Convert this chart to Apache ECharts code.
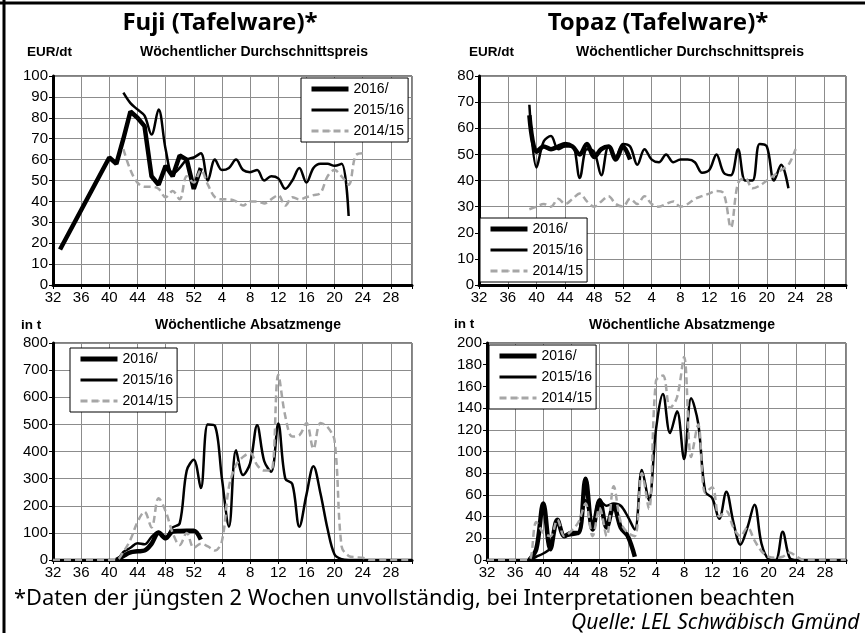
<!DOCTYPE html>
<html>
<head>
<meta charset="utf-8">
<script src="https://cdn.jsdelivr.net/npm/echarts@6/dist/echarts.min.js"></script>
<style>
  html, body { margin: 0; padding: 0; background: #fff; }
  #chart { width: 865px; height: 633px; }
</style>
</head>
<body>
<div id="chart"></div>
<script>
// x = running week index: 32..52 in the first year, 53 = week 1, 56 = week 4 ...
const weekMin = 32;
const weekMax = 83;
const seasons = ['2016/', '2015/16', '2014/15'];

// Fuji, weekly average price (EUR/dt)
const fujiPrice16Weeks = [33, 40, 41, 42, 43, 44, 45, 46, 47, 48, 49, 50, 51, 52, 53];
const fujiPrice16 = [17, 61, 58, 70, 83, 80, 76, 52, 48, 57, 52, 62, 60, 46, 56];
const fujiPrice15Start = 42;
const fujiPrice15 = [92, 87, 84, 81, 72, 84, 65, 53, 56, 60, 61, 63, 50, 60, 55, 56, 60, 55, 54, 55, 50, 52, 51, 46, 50, 56, 49, 56, 58, 58, 57, 58, 33];
const fujiPrice14Start = 42;
const fujiPrice14 = [65, 55, 49, 47, 47, 46, 42, 45, 41, 52, 49, 55, 48, 42, 41, 41, 40, 38, 40, 40, 39, 41, 43, 38, 42, 41, 42, 43, 44, 52, 55, 52, 48, 62, 63];

// Topaz, weekly average price (EUR/dt)
const topazPriceStart = 39;
const topazPrice16 = [65, 51, 53, 52, 53, 54, 53, 50, 54, 49, 52, 53, 48, 53, 48];
const topazPrice15 = [69, 45, 55, 57, 52, 53, 53, 41, 52, 51, 42, 53, 49, 54, 53, 46, 52, 48, 47, 50, 47, 48, 48, 47, 43, 44, 50, 43, 42, 52, 40, 40, 54, 53, 40, 46, 37];
const topazPrice14 = [29, 30, 31, 30, 33, 31, 33, 35, 32, 30, 32, 34, 31, 30, 33, 31, 34, 31, 30, 31, 32, 30, 31, 33, 34, 35, 36, 35, 22, 39, 41, 37, 38, 40, 42, 44, 46, 52];

// Fuji, weekly sales (t)
const fujiVol16Start = 41;
const fujiVol16 = [0, 15, 28, 32, 35, 60, 100, 80, 105, 107, 108, 108, 75];
const fujiVolStart = 32;
const fujiVol15 = [0, 0, 0, 0, 0, 0, 0, 0, 0, 0, 30, 45, 62, 58, 85, 105, 85, 120, 135, 330, 370, 265, 500, 495, 300, 123, 405, 313, 356, 497, 365, 325, 503, 300, 280, 123, 240, 346, 245, 115, 20, 3, 0, 0, 0, 0, 0, 0, 0, 0, 0, 0];
const fujiVol14 = [0, 0, 0, 0, 0, 0, 0, 0, 0, 0, 30, 75, 140, 178, 120, 228, 180, 100, 55, 100, 45, 60, 50, 35, 70, 270, 350, 380, 395, 350, 330, 330, 683, 530, 455, 460, 505, 410, 505, 490, 440, 50, 15, 10, 8, 0, 0, 0, 0, 0, 0, 0];

// Topaz, weekly sales (t)
const topazVol16Start = 38;
const topazVol16 = [0, 10, 52, 10, 37, 22, 25, 25, 75, 28, 55, 30, 50, 30, 22, 3];
const topazVolStart = 32;
const topazVol15 = [0, 0, 0, 0, 0, 0, 0, 3, 6, 11, 37, 22, 23, 25, 55, 30, 55, 50, 52, 50, 40, 28, 83, 55, 120, 153, 117, 137, 93, 149, 126, 63, 57, 38, 63, 35, 14, 30, 51, 15, 1, 0, 26, 2, 0, 0, 0, 0, 0, 0, 0, 0];
const topazVol14 = [0, 0, 0, 0, 0, 0, 0, 35, 25, 22, 37, 22, 27, 35, 52, 22, 48, 22, 68, 35, 25, 22, 80, 47, 165, 170, 140, 150, 187, 95, 125, 62, 67, 40, 45, 30, 22, 30, 18, 8, 3, 2, 3, 7, 3, 0, 0, 0, 0, 0, 0, 0];

const labelFont = 'Liberation Sans';
const headFont = 'Noto Sans';

function fromWeek(start, values) {
  return values.map((v, i) => [start + i, v]);
}
function zipWeeks(weeks, values) {
  return values.map((v, i) => [weeks[i], v]);
}

const seasonStyle = [
  { color: '#000', width: 4.5, type: 'solid' },
  { color: '#000', width: 2.5, type: 'solid' },
  { color: '#a6a6a6', width: 2.5, type: [7, 4] }
];

const panels = [
  {
    data: [zipWeeks(fujiPrice16Weeks, fujiPrice16), fromWeek(fujiPrice15Start, fujiPrice15), fromWeek(fujiPrice14Start, fujiPrice14)],
    smooth: [false, 0.35, 0.35],
    yMax: 100, yStep: 10,
    grid: { left: 53, top: 76, width: 359, height: 209 }, legend: { left: 301, top: 78 }
  },
  {
    data: [fromWeek(topazPriceStart, topazPrice16), fromWeek(topazPriceStart, topazPrice15), fromWeek(topazPriceStart, topazPrice14)],
    smooth: [0.35, 0.35, 0.35],
    yMax: 80, yStep: 10,
    grid: { left: 479, top: 76, width: 367, height: 209 }, legend: { left: 480, top: 218 }
  },
  {
    data: [fromWeek(fujiVol16Start, fujiVol16), fromWeek(fujiVolStart, fujiVol15), fromWeek(fujiVolStart, fujiVol14)],
    smooth: [0.35, 0.35, 0.35],
    yMax: 800, yStep: 100,
    grid: { left: 53, top: 343, width: 359, height: 217 }, legend: { left: 70, top: 348 }
  },
  {
    data: [fromWeek(topazVol16Start, topazVol16), fromWeek(topazVolStart, topazVol15), fromWeek(topazVolStart, topazVol14)],
    smooth: [0.35, 0.35, 0.35],
    yMax: 200, yStep: 20,
    grid: { left: 487, top: 343, width: 359, height: 217 }, legend: { left: 489, top: 345 }
  }
];

const legendItems = seasons.map((name, i) => ({
  name: name,
  lineStyle: { width: seasonStyle[i].width + 0.5, color: seasonStyle[i].color, type: seasonStyle[i].type }
}));

function label(text, x, y, size, align) {
  return {
    type: 'text', x: x, y: y, z: 10,
    style: { text: text, font: 'bold ' + size + 'px ' + labelFont, fill: '#000', textAlign: align || 'left', textVerticalAlign: 'middle' }
  };
}

const option = {
  animation: false,
  backgroundColor: '#fff',
  grid: panels.map(p => Object.assign({ show: true, borderColor: '#000', borderWidth: 1, backgroundColor: 'transparent' }, p.grid)),
  xAxis: panels.map((p, i) => ({
    type: 'value',
    gridIndex: i,
    min: weekMin,
    max: weekMax,
    interval: 4,
    axisLine: { show: true, onZero: false, lineStyle: { color: '#000', width: 3 } },
    axisTick: { show: true, length: 4, lineStyle: { color: '#000', width: 1 } },
    axisLabel: {
      color: '#000', fontFamily: labelFont, fontSize: 15, margin: 5,
      formatter: v => ((v - weekMin) % 4 !== 0 ? '' : String(v > 52 ? v - 52 : v))
    },
    splitLine: { show: true, lineStyle: { color: '#8c8c8c', width: 1 } }
  })),
  yAxis: panels.map((p, i) => ({
    type: 'value',
    gridIndex: i,
    min: 0,
    max: p.yMax,
    interval: p.yStep,
    axisLine: { show: true, lineStyle: { color: '#000', width: 3 } },
    axisTick: { show: true, length: 4, lineStyle: { color: '#000', width: 1 } },
    axisLabel: { color: '#000', fontFamily: labelFont, fontSize: 15, margin: 5 },
    splitLine: { show: true, lineStyle: { color: '#8c8c8c', width: 1 } }
  })),
  legend: panels.map(p => ({
    left: p.legend.left,
    top: p.legend.top,
    orient: 'vertical',
    backgroundColor: '#fff',
    borderColor: '#000',
    borderWidth: 1,
    borderRadius: 0,
    padding: [4, 4, 4, 8],
    itemWidth: 37,
    itemHeight: 2,
    itemGap: 7,
    selectedMode: false,
    textStyle: { color: '#000', fontFamily: labelFont, fontSize: 14 },
    data: legendItems
  })),
  series: [],
  graphic: [
    { type: 'line', shape: { x1: 4, y1: 0, x2: 4, y2: 633 }, style: { stroke: '#000', lineWidth: 3 } },
    { type: 'line', shape: { x1: 0, y1: 3, x2: 865, y2: 3 }, style: { stroke: '#000', lineWidth: 3 } },
    { type: 'text', x: 220, y: 23, style: { text: 'Fuji (Tafelware)*', font: 'bold 24px ' + headFont, fill: '#000', textAlign: 'center', textVerticalAlign: 'middle' } },
    { type: 'text', x: 658, y: 23, style: { text: 'Topaz (Tafelware)*', font: 'bold 24px ' + headFont, fill: '#000', textAlign: 'center', textVerticalAlign: 'middle' } },
    label('EUR/dt', 27, 52, 13.5),
    label('Wöchentlicher Durchschnittspreis', 254, 52, 14, 'center'),
    label('EUR/dt', 469, 52, 13.5),
    label('Wöchentlicher Durchschnittspreis', 690, 52, 14, 'center'),
    label('in t', 21, 325, 13.5),
    label('Wöchentliche Absatzmenge', 248, 325, 14, 'center'),
    label('in t', 454, 324, 13.5),
    label('Wöchentliche Absatzmenge', 682, 325, 14, 'center'),
    { type: 'text', x: 14, y: 599, style: { text: '*Daten der jüngsten 2 Wochen unvollständig, bei Interpretationen beachten', font: '21.8px ' + headFont, fill: '#000', textVerticalAlign: 'middle' } },
    { type: 'text', x: 571, y: 623, style: { text: 'Quelle: LEL Schwäbisch Gmünd', font: 'italic 21px ' + headFont, fill: '#000', textVerticalAlign: 'middle' } }
  ]
};

panels.forEach((p, gi) => {
  seasons.forEach((name, si) => {
    option.series.push({
      type: 'line',
      name: name,
      xAxisIndex: gi,
      yAxisIndex: gi,
      symbol: 'none',
      smooth: p.smooth[si],
      z: 2 + si,
      lineStyle: seasonStyle[si],
      itemStyle: { color: seasonStyle[si].color },
      data: p.data[si]
    });
  });
});

const chart = echarts.init(document.getElementById('chart'));
chart.setOption(option);
</script>
</body>
</html>
